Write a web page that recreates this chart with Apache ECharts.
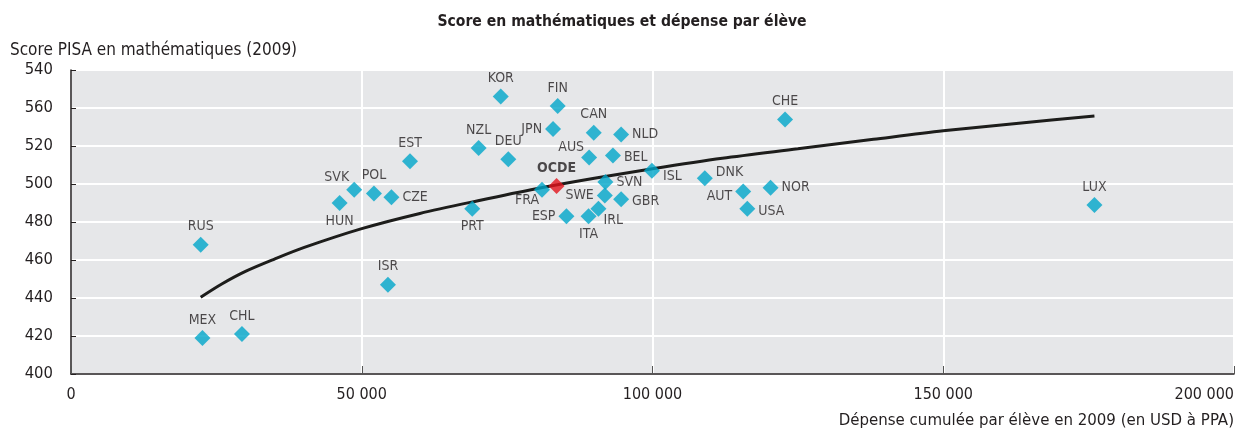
<!DOCTYPE html>
<html>
<head>
	<meta charset="UTF-8">
	<title>Score en mathématiques et dépense par élève</title>
	<script src="https://cdn.jsdelivr.net/npm/echarts@6/dist/echarts.min.js"></script>
	<style>
		html, body {
			margin: 0;
			padding: 0;
			background: #fff;
		}
		#main {
			width: 1244px;
			height: 433px;
		}
	</style>
</head>
<body>
<div id="main"></div>
<script type="text/javascript">
    // données
    var countries = ['KOR', 'FIN', 'CAN', 'NLD', 'JPN', 'NZL', 'DEU', 'AUS', 'BEL', 'ISL',
        'DNK', 'FRA', 'SVN', 'SWE', 'GBR', 'IRL', 'ITA', 'ESP', 'PRT', 'EST',
        'SVK', 'POL', 'CZE', 'HUN', 'RUS', 'ISR', 'MEX', 'CHL', 'CHE', 'AUT',
        'NOR', 'USA', 'LUX'];
    var spending = [73900, 83700, 89900, 94600, 82900, 70100, 75200, 89100, 93200, 99900,
        109000, 81000, 91900, 91800, 94600, 90700, 89000, 85200, 69000, 58300,
        48700, 52100, 55100, 46200, 22300, 54500, 22600, 29400, 122800, 115600,
        120300, 116300, 176000];
    var scores = [546, 541, 527, 526, 529, 519, 513, 514, 515, 507,
        503, 497, 501, 494, 492, 487, 483, 483, 487, 512,
        497, 495, 493, 490, 468, 447, 419, 421, 534, 496,
        498, 487, 489];

    var oecdName = 'OCDE';
    var oecdSpending = 83500;
    var oecdScore = 499;

    // courbe de tendance (points relevés)
    var trendX = [22300, 26000, 30000, 35000, 40000, 50000, 60000, 70000, 80000, 90000,
        100000, 112000, 125000, 138000, 150000, 163000, 176000];
    var trendY = [440.4, 447.5, 454, 460.5, 466.5, 476.5, 484.5, 491.2, 497.5, 503,
        508, 513.5, 518.5, 523.5, 528, 532, 535.8];

    var xTickValues = [0, 50000, 100000, 150000, 200000];
    var xTickLabels = ['0', '50 000', '100 000', '150 000', '200 000'];
    var yTickValues = [400, 420, 440, 460, 480, 500, 520, 540, 560];
    var yTickLabels = ['400', '420', '440', '460', '480', '500', '520', '560', '540'];

    // placement des étiquettes : [position, décalage]
    var labelPlace = {
        NLD: ['right'], JPN: ['left'], AUS: ['left', [6, -10]], BEL: ['right', [0, 2]],
        ISL: ['right', [0, 6]], DNK: ['right', [0, -6]], FRA: ['left', [8, 11]],
        SVN: ['right'], SWE: ['left'], GBR: ['right', [0, 2]], IRL: ['right', [-6, 12]],
        ITA: ['bottom'], ESP: ['left'], PRT: ['bottom'], SVK: ['left', [6, -12]],
        CZE: ['right'], HUN: ['bottom'], AUT: ['left', [0, 5]], NOR: ['right'],
        USA: ['right', [0, 3]]
    };

    var font = '"DejaVu Sans Condensed", "Liberation Sans Narrow", "Liberation Sans", sans-serif';
    var textColor = '#231f20';

    var points = countries.map(function (c, i) {
        var p = labelPlace[c] || ['top'];
        return {
            name: c,
            value: [spending[i], scores[i]],
            label: {position: p[0], offset: p[1] || [0, 0]}
        };
    });

    var myChart = echarts.init(document.getElementById('main'));

    myChart.setOption({
        animation: false,
        textStyle: {fontFamily: font},
        title: [
            {
                text: 'Score en mathématiques et dépense par élève',
                left: 'center',
                top: 9,
                textStyle: {fontFamily: font, fontSize: 15.6, fontWeight: 'bold', color: textColor}
            },
            {
                text: 'Score PISA en mathématiques (2009)',
                left: 5,
                top: 37,
                textStyle: {fontFamily: font, fontSize: 17, fontWeight: 'normal', color: textColor}
            }
        ],
        grid: {
            left: 71,
            right: 10,
            top: 70,
            bottom: 59,
            show: true,
            backgroundColor: '#e6e7e9',
            borderWidth: 0
        },
        xAxis: {
            type: 'value',
            min: 0,
            max: 200000,
            interval: 50000,
            name: 'Dépense cumulée par élève en 2009 (en USD à PPA)',
            nameLocation: 'end',
            nameGap: 0,
            nameTextStyle: {
                fontFamily: font, fontSize: 16.7, color: textColor,
                align: 'right', verticalAlign: 'top', padding: [38, 0, 0, 0]
            },
            axisLine: {lineStyle: {color: '#231f20', width: 1.5}},
            axisTick: {show: true, inside: true, length: 8, lineStyle: {color: '#555'}},
            splitLine: {show: true, lineStyle: {color: '#fff', width: 2}},
            axisLabel: {
                fontSize: 16, color: textColor, margin: 13,
                alignMaxLabel: 'right',
                formatter: function (v) {
                    return xTickLabels[xTickValues.indexOf(v)];
                }
            }
        },
        yAxis: {
            type: 'value',
            min: 400,
            max: 560,
            interval: 20,
            axisLine: {show: true, lineStyle: {color: '#231f20', width: 1.5}},
            axisTick: {show: true, inside: true, length: 5, lineStyle: {color: '#231f20'}},
            splitLine: {show: true, lineStyle: {color: '#fff', width: 2}},
            axisLabel: {
                fontSize: 16.5, color: textColor, margin: 18,
                formatter: function (v) {
                    return yTickLabels[yTickValues.indexOf(v)];
                }
            }
        },
        series: [
            {
                name: 'tendance',
                type: 'line',
                data: trendX.map(function (x, i) { return [x, trendY[i]]; }),
                smooth: 0.3,
                showSymbol: false,
                lineStyle: {color: '#1d1d1b', width: 3},
                z: 2
            },
            {
                name: 'pays',
                type: 'scatter',
                symbol: 'diamond',
                symbolSize: 16,
                itemStyle: {color: '#00a6c9'},
                label: {
                    show: true,
                    formatter: '{b}',
                    distance: 3,
                    fontFamily: font,
                    fontSize: 14,
                    color: textColor
                },
                data: points,
                z: 3
            },
            {
                name: 'OCDE',
                type: 'scatter',
                symbol: 'diamond',
                symbolSize: 16,
                itemStyle: {color: '#e2141b'},
                label: {
                    show: true,
                    position: 'top',
                    formatter: '{b}',
                    distance: 3,
                    fontFamily: font,
                    fontSize: 14,
                    fontWeight: 'bold',
                    color: textColor
                },
                data: [{name: oecdName, value: [oecdSpending, oecdScore]}],
                z: 4
            }
        ]
    });
</script>
</body>
</html>
